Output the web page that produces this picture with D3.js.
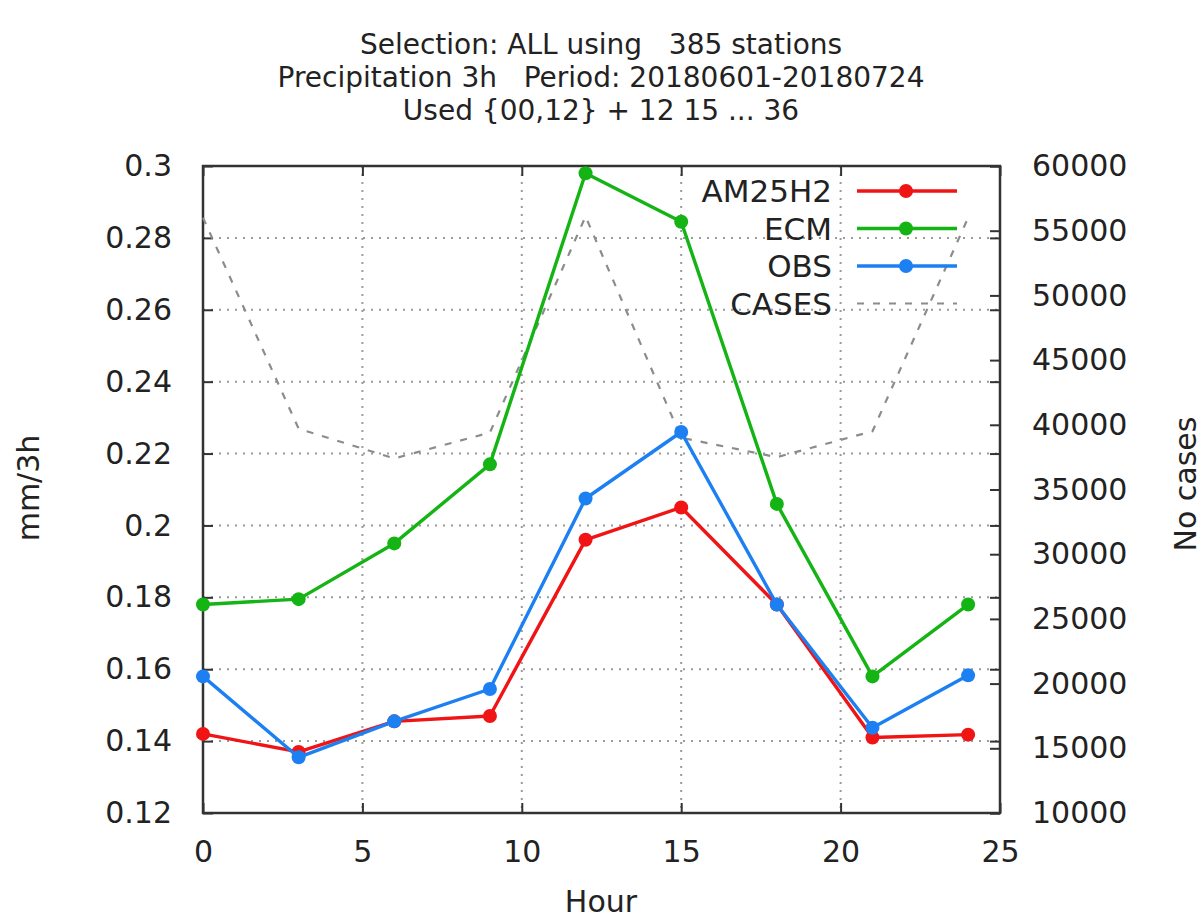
<!DOCTYPE html>
<html>
<head>
<meta charset="utf-8">
<script src="https://cdn.jsdelivr.net/npm/d3@7"></script>
<style>
  html, body { margin: 0; padding: 0; background: #fff; }
  svg text { font-family: "DejaVu Sans", sans-serif; fill: #222; }
</style>
</head>
<body>
<svg id="chart" width="1203" height="919"></svg>
<script>
// ---- data ----
const hours = [0, 3, 6, 9, 12, 15, 18, 21, 24];
const am25h2 = [0.142, 0.137, 0.1455, 0.147, 0.196, 0.205, 0.178, 0.141, 0.1418];
const ecm    = [0.178, 0.1795, 0.195, 0.217, 0.298, 0.2845, 0.206, 0.158, 0.178];
const obs    = [0.158, 0.1355, 0.1455, 0.1545, 0.2075, 0.226, 0.178, 0.1437, 0.1583];
const cases  = [56000, 39700, 37400, 39400, 56100, 39000, 37500, 39500, 56000];
const xTicks = [0, 5, 10, 15, 20, 25];
const yTicks = [0.12, 0.14, 0.16, 0.18, 0.2, 0.22, 0.24, 0.26, 0.28, 0.3];
const y2Ticks = [10000, 15000, 20000, 25000, 30000, 35000, 40000, 45000, 50000, 55000, 60000];
const titleLines = ["Selection: ALL using   385 stations",
                    "Precipitation 3h   Period: 20180601-20180724",
                    "Used {00,12} + 12 15 ... 36"];
const seriesNames = ["AM25H2", "ECM", "OBS", "CASES"];

// ---- layout ----
const svg = d3.select("#chart");
const L = 203, R = 1000, T = 166, B = 813;
const x = d3.scaleLinear().domain([0, 25]).range([L, R]);
const y = d3.scaleLinear().domain([0.12, 0.30]).range([B, T]);
const y2 = d3.scaleLinear().domain([10000, 60000]).range([B, T]);
const fs = 30;
const gridColor = "#9a9a9a";

// grid
const grid = svg.append("g");
xTicks.filter(v => v > 0 && v < 25).forEach(v => {
  grid.append("line").attr("x1", x(v)).attr("x2", x(v)).attr("y1", T).attr("y2", B)
    .attr("stroke", gridColor).attr("stroke-width", 2).attr("stroke-dasharray", "2,6");
});
yTicks.filter(v => v > 0.121 && v < 0.299).forEach(v => {
  grid.append("line").attr("x1", L).attr("x2", R).attr("y1", y(v)).attr("y2", y(v))
    .attr("stroke", gridColor).attr("stroke-width", 2).attr("stroke-dasharray", "2,6");
});

// axes with inward ticks
const tl = 10;
const fmtY = v => (+v.toFixed(2)).toString();
const axB = svg.append("g").attr("transform", `translate(0,${B})`)
  .call(d3.axisBottom(x).tickValues(xTicks).tickSize(-tl).tickPadding(28).tickFormat(d3.format("d")));
const axT = svg.append("g").attr("transform", `translate(0,${T})`)
  .call(d3.axisTop(x).tickValues(xTicks).tickSize(-tl).tickFormat(""));
const axL = svg.append("g").attr("transform", `translate(${L},0)`)
  .call(d3.axisLeft(y).tickValues(yTicks).tickSize(-tl).tickPadding(31).tickFormat(fmtY));
const axR1 = svg.append("g").attr("transform", `translate(${R},0)`)
  .call(d3.axisRight(y).tickValues(yTicks).tickSize(-tl).tickFormat(""));
const axR2 = svg.append("g").attr("transform", `translate(${R},0)`)
  .call(d3.axisRight(y2).tickValues(y2Ticks).tickSize(-tl).tickPadding(32).tickFormat(d3.format("d")));
[axB, axT, axL, axR1, axR2].forEach(g => {
  g.select(".domain").remove();
  g.selectAll(".tick line").attr("stroke", "#333").attr("stroke-width", 2);
  g.selectAll(".tick text").attr("font-size", fs).attr("font-family", "DejaVu Sans").attr("fill", "#222");
});

// frame
svg.append("rect").attr("x", L).attr("y", T).attr("width", R - L).attr("height", B - T)
  .attr("fill", "none").attr("stroke", "#333").attr("stroke-width", 2.5);

// series
const plot = svg.append("g");
const casesLine = d3.line().x((d, i) => x(hours[i])).y(d => y2(d));
plot.append("path").datum(cases).attr("d", casesLine).attr("fill", "none")
  .attr("stroke", "#8c8c8c").attr("stroke-width", 2.2).attr("stroke-dasharray", "7,9");

const series = [
  { name: "AM25H2", vals: am25h2, color: "#f01414" },
  { name: "ECM", vals: ecm, color: "#14b414" },
  { name: "OBS", vals: obs, color: "#1c80f2" }
];
const line = d3.line().x((d, i) => x(hours[i])).y(d => y(d));
series.forEach(s => {
  plot.append("path").datum(s.vals).attr("d", line).attr("fill", "none")
    .attr("stroke", s.color).attr("stroke-width", 3.4).attr("stroke-linejoin", "round");
  plot.selectAll(null).data(s.vals).enter().append("circle")
    .attr("cx", (d, i) => x(hours[i])).attr("cy", d => y(d)).attr("r", 7)
    .attr("fill", s.color);
});

// legend
const legY = [191, 228.5, 266, 303.5];
const lg = svg.append("g");
seriesNames.forEach((n, i) => {
  lg.append("text").attr("x", 832).attr("y", legY[i]).attr("dy", "0.36em")
    .attr("text-anchor", "end").attr("font-size", fs + 1).text(n);
  if (i < 3) {
    lg.append("line").attr("x1", 857).attr("x2", 957).attr("y1", legY[i]).attr("y2", legY[i])
      .attr("stroke", series[i].color).attr("stroke-width", 3.4);
    lg.append("circle").attr("cx", 906).attr("cy", legY[i]).attr("r", 7).attr("fill", series[i].color);
  } else {
    lg.append("line").attr("x1", 857).attr("x2", 957).attr("y1", legY[i]).attr("y2", legY[i])
      .attr("stroke", "#8c8c8c").attr("stroke-width", 2.2).attr("stroke-dasharray", "7,9");
  }
});

// titles
const tb = [54, 87, 120];
titleLines.forEach((t, i) => {
  svg.append("text").attr("x", 601).attr("y", tb[i]).attr("text-anchor", "middle")
    .attr("font-size", 28).attr("xml:space", "preserve").style("white-space", "pre").text(t);
});

// axis titles
svg.append("text").attr("x", 601).attr("y", 912).attr("text-anchor", "middle")
  .attr("font-size", fs).text("Hour");
svg.append("text").attr("transform", "translate(28,488) rotate(-90)").attr("text-anchor", "middle")
  .attr("dy", "0.35em").attr("font-size", fs).text("mm/3h");
svg.append("text").attr("transform", "translate(1185,484) rotate(-90)").attr("text-anchor", "middle")
  .attr("dy", "0.35em").attr("font-size", fs).text("No cases");
</script>
</body>
</html>
